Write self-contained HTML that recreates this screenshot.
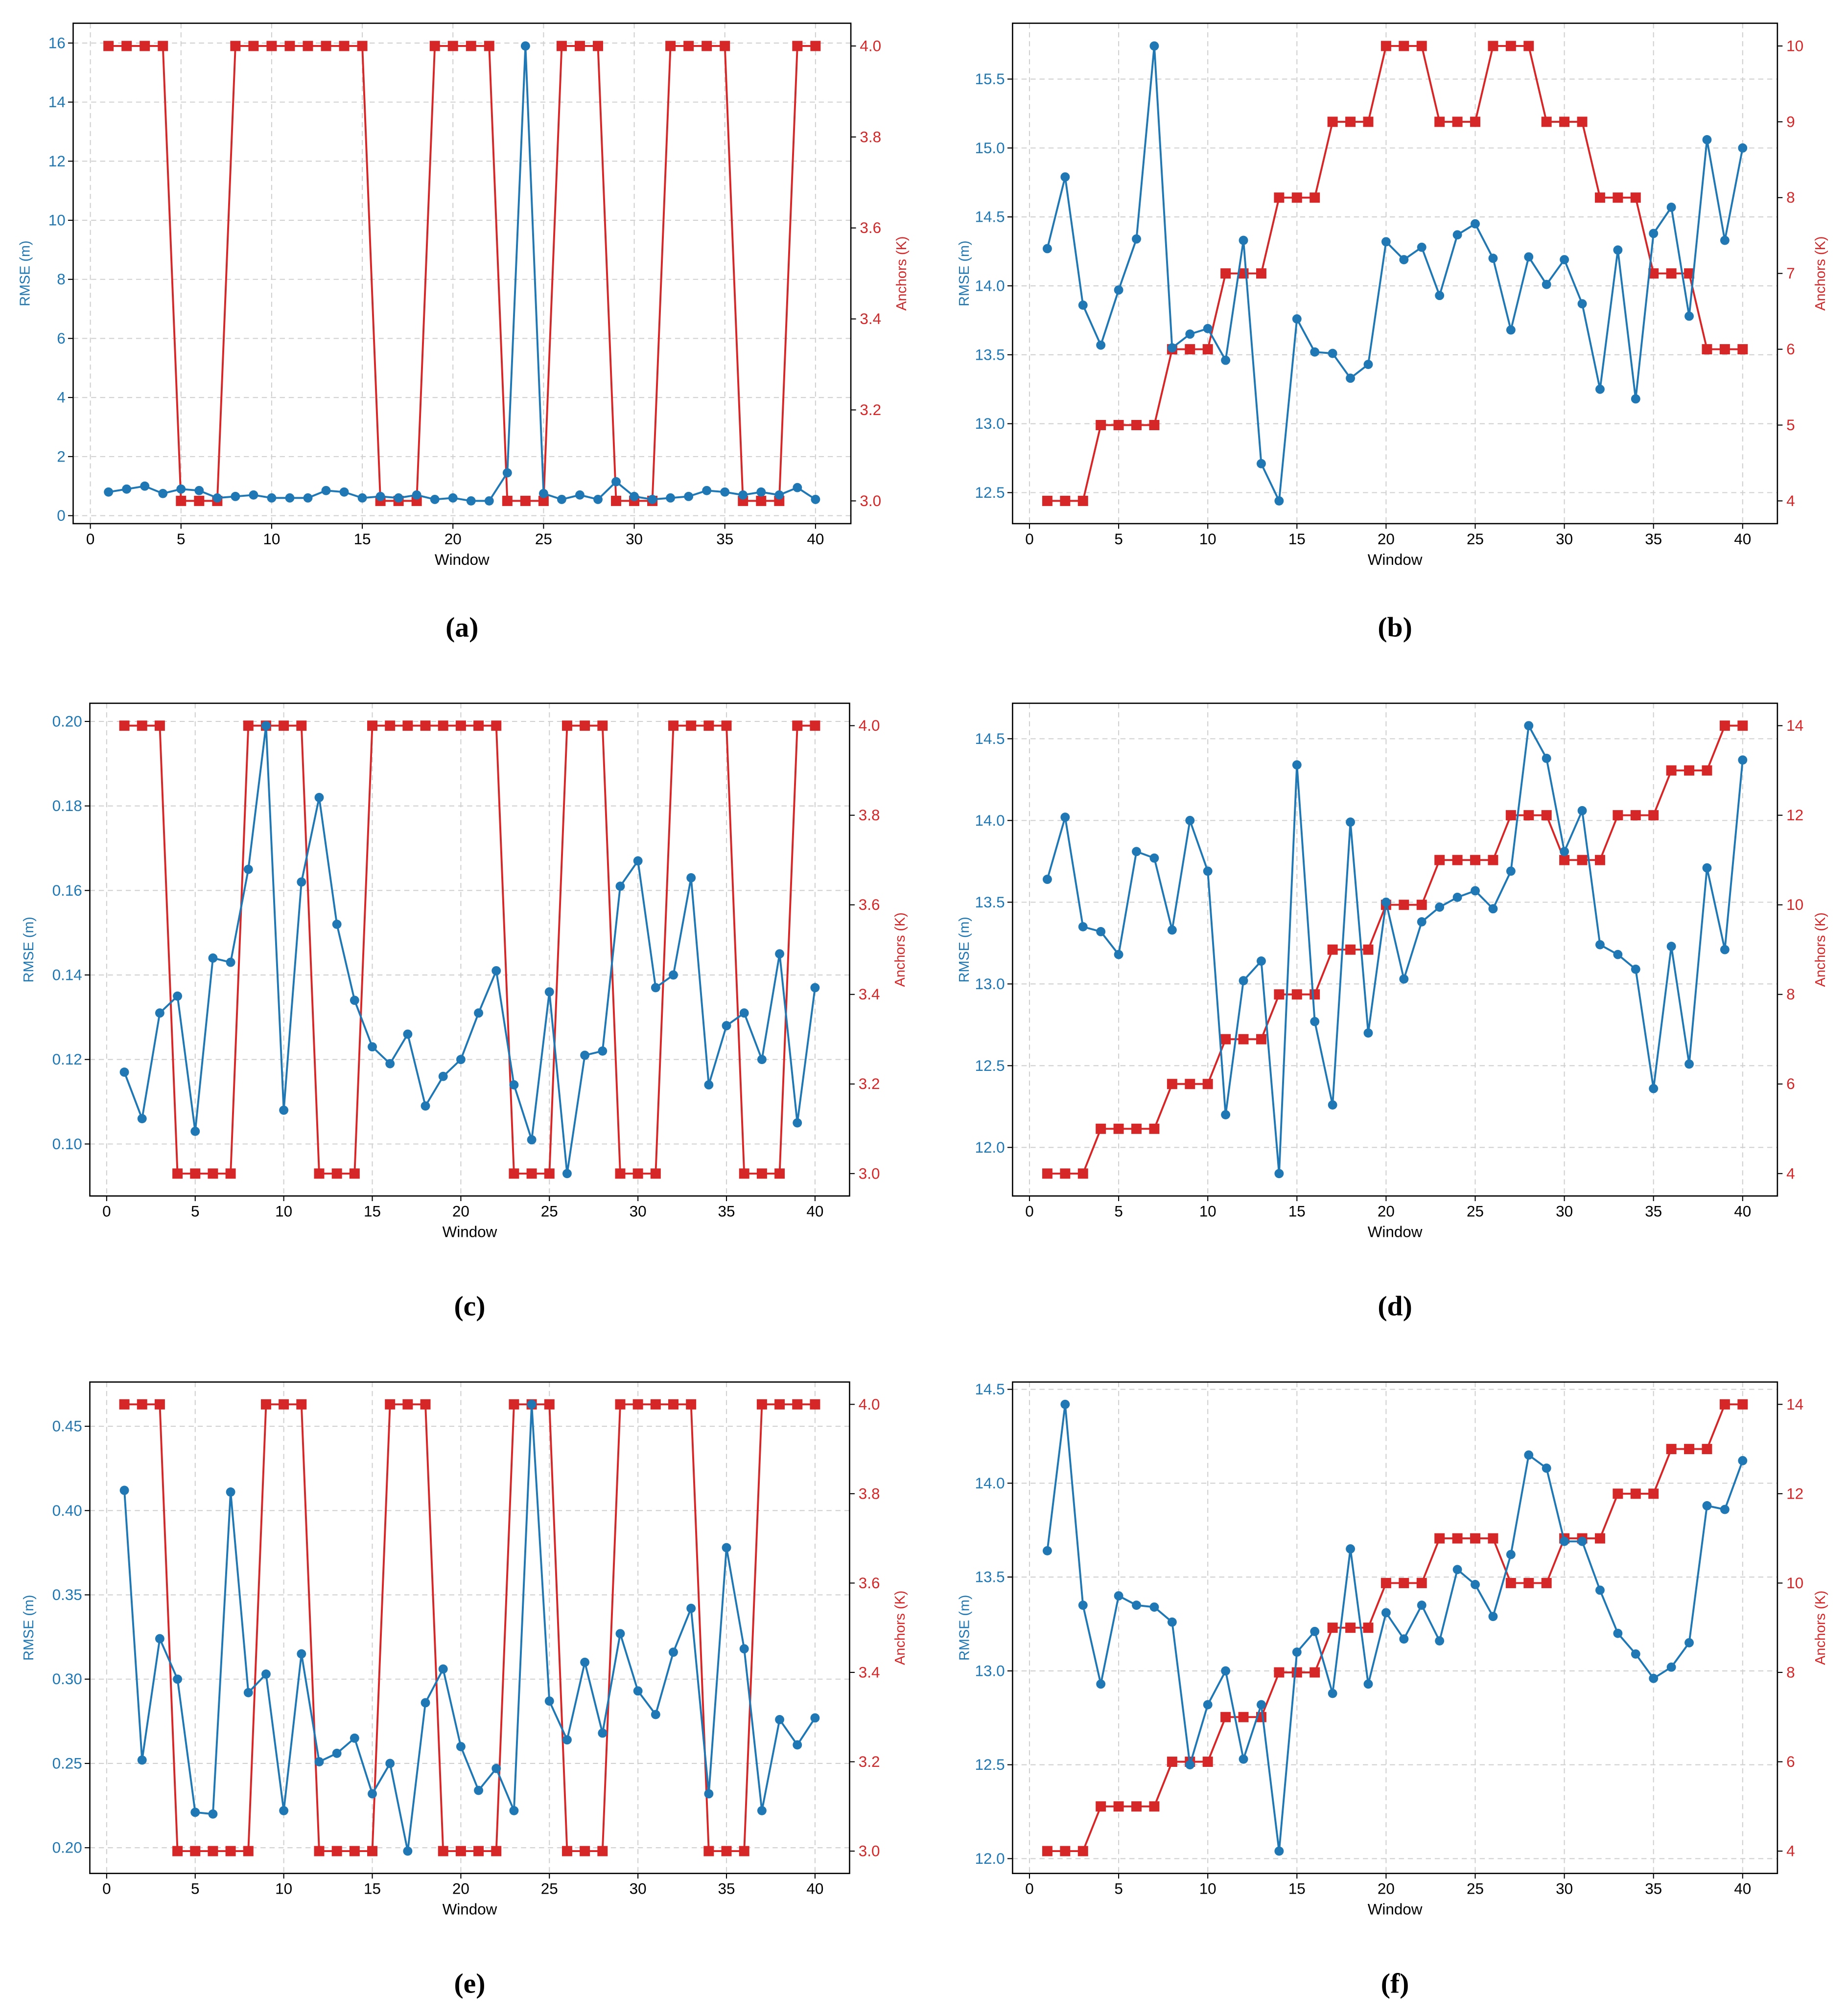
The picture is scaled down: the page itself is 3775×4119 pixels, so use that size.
<!DOCTYPE html>
<html><head><meta charset="utf-8"><style>html,body{margin:0;padding:0;background:#fff}svg{display:block}</style></head>
<body>
<svg id="fig" width="3775" height="4119" viewBox="0 0 1440 1571" xmlns="http://www.w3.org/2000/svg" font-family="'Liberation Sans', 'DejaVu Sans', sans-serif"></svg>
<script>
const windows = Array.from({length:40},(_,i)=>i+1);
const rmseA = [0.8,0.9,1.0,0.75,0.9,0.85,0.6,0.65,0.7,0.6,0.6,0.6,0.85,0.8,0.6,0.65,0.6,0.7,0.55,0.6,0.5,0.5,1.45,15.9,0.75,0.55,0.7,0.55,1.15,0.65,0.55,0.6,0.65,0.85,0.8,0.7,0.8,0.7,0.95,0.55];
const ancA = [4,4,4,4,3,3,3,4,4,4,4,4,4,4,4,3,3,3,4,4,4,4,3,3,3,4,4,4,3,3,3,4,4,4,4,3,3,3,4,4];
const rmseB = [14.27,14.79,13.86,13.57,13.97,14.34,15.74,13.55,13.65,13.69,13.46,14.33,12.71,12.44,13.76,13.52,13.51,13.33,13.43,14.32,14.19,14.28,13.93,14.37,14.45,14.20,13.68,14.21,14.01,14.19,13.87,13.25,14.26,13.18,14.38,14.57,13.78,15.06,14.33,15.00];
const ancB = [4,4,4,5,5,5,5,6,6,6,7,7,7,8,8,8,9,9,9,10,10,10,9,9,9,10,10,10,9,9,9,8,8,8,7,7,7,6,6,6];
const rmseC = [0.117,0.106,0.131,0.135,0.103,0.144,0.143,0.165,0.199,0.108,0.162,0.182,0.152,0.134,0.123,0.119,0.126,0.109,0.116,0.120,0.131,0.141,0.114,0.101,0.136,0.093,0.121,0.122,0.161,0.167,0.137,0.140,0.163,0.114,0.128,0.131,0.120,0.145,0.105,0.137];
const ancC = [4,4,4,3,3,3,3,4,4,4,4,3,3,3,4,4,4,4,4,4,4,4,3,3,3,4,4,4,3,3,3,4,4,4,4,3,3,3,4,4];
const rmseD = [13.64,14.02,13.35,13.32,13.18,13.81,13.77,13.33,14.0,13.69,12.20,13.02,13.14,11.84,14.34,12.77,12.26,13.99,12.70,13.50,13.03,13.38,13.47,13.53,13.57,13.46,13.69,14.58,14.38,13.81,14.06,13.24,13.18,13.09,12.36,13.23,12.51,13.71,13.21,14.37];
const ancD = [4,4,4,5,5,5,5,6,6,6,7,7,7,8,8,8,9,9,9,10,10,10,11,11,11,11,12,12,12,11,11,11,12,12,12,13,13,13,14,14];
const rmseE = [0.412,0.252,0.324,0.300,0.221,0.220,0.411,0.292,0.303,0.222,0.315,0.251,0.256,0.265,0.232,0.250,0.198,0.286,0.306,0.260,0.234,0.247,0.222,0.463,0.287,0.264,0.310,0.268,0.327,0.293,0.279,0.316,0.342,0.232,0.378,0.318,0.222,0.276,0.261,0.277];
const ancE = [4,4,4,3,3,3,3,3,4,4,4,3,3,3,3,4,4,4,3,3,3,3,4,4,4,3,3,3,4,4,4,4,4,3,3,3,4,4,4,4];
const rmseF = [13.64,14.42,13.35,12.93,13.40,13.35,13.34,13.26,12.50,12.82,13.00,12.53,12.82,12.04,13.10,13.21,12.88,13.65,12.93,13.31,13.17,13.35,13.16,13.54,13.46,13.29,13.62,14.15,14.08,13.69,13.69,13.43,13.20,13.09,12.96,13.02,13.15,13.88,13.86,14.12];
const ancF = [4,4,4,5,5,5,5,6,6,6,7,7,7,8,8,8,9,9,9,10,10,10,11,11,11,11,10,10,10,11,11,11,12,12,12,13,13,13,14,14];
const xTicks = [0,5,10,15,20,25,30,35,40];
const leftTicksA=[0,2,4,6,8,10,12,14,16], rightTicksA=[3.0,3.2,3.4,3.6,3.8,4.0];
const leftTicksB=[12.5,13.0,13.5,14.0,14.5,15.0,15.5], rightTicksB=[4,5,6,7,8,9,10];
const leftTicksC=[0.10,0.12,0.14,0.16,0.18,0.20], rightTicksC=[3.0,3.2,3.4,3.6,3.8,4.0];
const leftTicksD=[12.0,12.5,13.0,13.5,14.0,14.5], rightTicksD=[4,6,8,10,12,14];
const leftTicksE=[0.20,0.25,0.30,0.35,0.40,0.45], rightTicksE=[3.0,3.2,3.4,3.6,3.8,4.0];
const leftTicksF=[12.0,12.5,13.0,13.5,14.0,14.5], rightTicksF=[4,6,8,10,12,14];

const NS="http://www.w3.org/2000/svg";
const svg=document.getElementById('fig');
function mk(tag,attrs,parent){const e=document.createElementNS(NS,tag);for(const k in attrs)e.setAttribute(k,attrs[k]);(parent||svg).appendChild(e);return e;}
const BLUE="#1f77b4", RED="#d62728";

function panel(id,box,rmse,anc,lt,rt,ldec,rdec,caption,capY){
  const [x0,y0,x1,y1]=box;
  const g=mk('g',{});
  
  
  const xmin=-0.95,xmax=41.95;
  const X=v=>x0+(v-xmin)/(xmax-xmin)*(x1-x0);
  const lmin=Math.min(...rmse),lmax=Math.max(...rmse),lm=(lmax-lmin)*0.05;
  const YL=v=>y1-(v-(lmin-lm))/((lmax+lm)-(lmin-lm))*(y1-y0);
  const rmin=Math.min(...anc),rmax=Math.max(...anc),rm=(rmax-rmin)*0.05;
  const YR=v=>y1-(v-(rmin-rm))/((rmax+rm)-(rmin-rm))*(y1-y0);
  xTicks.forEach(t=>{const l=mk('line',{x1:X(t),x2:X(t),y1:y0,y2:y1,stroke:'#d0d0d0','stroke-width':0.8,'stroke-dasharray':'4,3'},g);
    
    });
  lt.forEach(t=>{const l=mk('line',{x1:x0,x2:x1,y1:YL(t),y2:YL(t),stroke:'#d0d0d0','stroke-width':0.8,'stroke-dasharray':'4,3'},g);
    
    });
  const pr=anc.map((v,i)=>X(windows[i])+','+YR(v)).join(' ');
  const lr=mk('polyline',{points:pr,fill:'none',stroke:RED,'stroke-width':1.5},g);
  
  
  anc.forEach((v,i)=>{const s=mk('rect',{x:X(windows[i])-4,y:YR(v)-4,width:8,height:8,fill:RED},g);
    
    });
  const pb=rmse.map((v,i)=>X(windows[i])+','+YL(v)).join(' ');
  const lb=mk('polyline',{points:pb,fill:'none',stroke:BLUE,'stroke-width':1.5},g);
  
  
  rmse.forEach((v,i)=>{const c=mk('circle',{cx:X(windows[i]),cy:YL(v),r:3.6,fill:BLUE},g);
    
    });
  const fr=mk('rect',{x:x0,y:y0,width:x1-x0,height:y1-y0,fill:'none',stroke:'#000','stroke-width':1},g);
  
  
  xTicks.forEach(t=>{mk('line',{x1:X(t),x2:X(t),y1:y1,y2:y1+4,stroke:'#000','stroke-width':0.8},g);
    const tx=mk('text',{x:X(t),y:y1+16,'font-size':12,'text-anchor':'middle',fill:'#000'},g);tx.textContent=t;
    
    });
  lt.forEach(t=>{mk('line',{x1:x0-4,x2:x0,y1:YL(t),y2:YL(t),stroke:'#000','stroke-width':0.8},g);
    const tx=mk('text',{x:x0-6,y:YL(t)+4,'font-size':12,'text-anchor':'end',fill:BLUE},g);tx.textContent=t.toFixed(ldec);
    
    });
  rt.forEach(t=>{mk('line',{x1:x1,x2:x1+4,y1:YR(t),y2:YR(t),stroke:'#000','stroke-width':0.8},g);
    const tx=mk('text',{x:x1+7,y:YR(t)+4,'font-size':12,'text-anchor':'start',fill:RED},g);tx.textContent=t.toFixed(rdec);
    
    });
  const xl=mk('text',{x:(x0+x1)/2,y:y1+32,'font-size':12,'text-anchor':'middle',fill:'#000'},g);xl.textContent='Window';
  
  
  const lyx=x0-(ldec>=2?44:34), cy=(y0+y1)/2;
  const yl=mk('text',{x:lyx,y:cy,'font-size':11,'text-anchor':'middle',fill:BLUE,transform:`rotate(-90 ${lyx} ${cy})`},g);yl.textContent='RMSE (m)';
  
  
  const ryx=x1+(rdec>0?43:37);
  const yr=mk('text',{x:ryx,y:cy,'font-size':11,'text-anchor':'middle',fill:RED,transform:`rotate(-90 ${ryx} ${cy})`},g);yr.textContent='Anchors (K)';
  
  
  const cp=mk('text',{x:(x0+x1)/2,y:capY,'font-size':22,'text-anchor':'middle',fill:'#000','font-family':"'Liberation Serif', serif",'font-weight':'bold'},g);cp.textContent=caption;
  
  
}
panel('a',[57,18,663,408],rmseA,ancA,leftTicksA,rightTicksA,0,1,'(a)',496);
panel('b',[789,18,1385,408],rmseB,ancB,leftTicksB,rightTicksB,1,0,'(b)',496);
panel('c',[70,548,662,932],rmseC,ancC,leftTicksC,rightTicksC,2,1,'(c)',1025);
panel('d',[789,548,1385,932],rmseD,ancD,leftTicksD,rightTicksD,1,0,'(d)',1025);
panel('e',[70,1077,662,1460],rmseE,ancE,leftTicksE,rightTicksE,2,1,'(e)',1553);
panel('f',[789,1077,1385,1460],rmseF,ancF,leftTicksF,rightTicksF,1,0,'(f)',1553);
</script>
</body></html>
